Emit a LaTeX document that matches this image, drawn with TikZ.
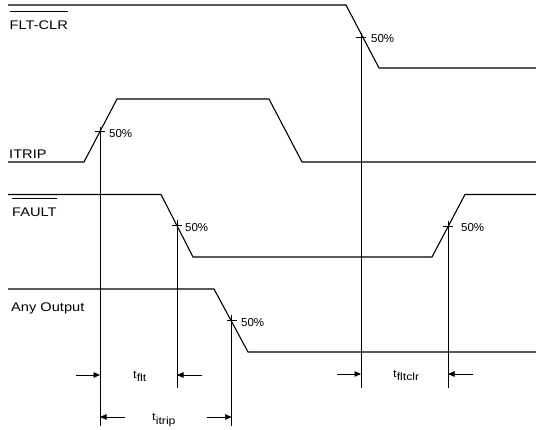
\documentclass[tikz,border=0pt]{standalone}
\usepackage{fontspec}
\setmainfont{Liberation Sans}
\newfontfamily\lblfont{Liberation Sans}[FakeStretch=1.17]
\usetikzlibrary{arrows.meta}
\begin{document}
\begin{tikzpicture}[x=1pt,y=-1pt,
  sig/.style={line width=1.1pt, line join=miter},
  vline/.style={line width=0.7pt},
  tickmark/.style={line width=0.7pt},
  lbl/.style={font=\lblfont\fontsize{12.5}{14}\selectfont, inner sep=0pt, anchor=base west},
  pct/.style={font=\fontsize{11.5}{13}\selectfont, inner sep=0pt, anchor=west},
  tlbl/.style={font=\lblfont\fontsize{11}{13}\selectfont, inner sep=0pt, anchor=base west},
  dimarrow/.style={line width=0.7pt, -{Triangle[length=6.5pt,width=5.5pt]}}]
\useasboundingbox (0,0) rectangle (536,430);

% FLT-CLR
\coordinate (f0) at (8,5); \coordinate (f1) at (346,5);
\coordinate (f2) at (379,68); \coordinate (f3) at (536,68);
\draw[sig] (f0) -- (f1) -- (f2) -- (f3);
% ITRIP
\coordinate (i0) at (8,162); \coordinate (i1) at (84,162);
\coordinate (i2) at (117,99); \coordinate (i3) at (269,99);
\coordinate (i4) at (302,162); \coordinate (i5) at (536,162);
\draw[sig] (i0) -- (i1) -- (i2) -- (i3) -- (i4) -- (i5);
% FAULT
\coordinate (q0) at (8,194.5); \coordinate (q1) at (161,194.5);
\coordinate (q2) at (193,257); \coordinate (q3) at (432,257);
\coordinate (q4) at (465,194.5); \coordinate (q5) at (536,194.5);
\draw[sig] (q0) -- (q1) -- (q2) -- (q3) -- (q4) -- (q5);
% Any Output
\coordinate (o0) at (8,289); \coordinate (o1) at (214,289);
\coordinate (o2) at (248,352); \coordinate (o3) at (536,352);
\draw[sig] (o0) -- (o1) -- (o2) -- (o3);

% labels
\node[lbl] (lflt) at (9.5,29.5) {FLT-CLR};
\draw[line width=0.8pt] ([yshift=18.2pt]lflt.base west) -- ([yshift=18.2pt]lflt.base east);
\node[lbl] (litrip) at (9,158.5) {ITRIP};
\node[lbl] (lfault) at (12,216.5) {FAULT};
\draw[line width=0.8pt] ([yshift=18.5pt]lfault.base west) -- ([yshift=18.5pt]lfault.base east);
\node[lbl] (lany) at (11,312) {Any Output};

% vertical reference lines
\coordinate (v1t) at (100,127); \coordinate (v1b) at (100,426);
\coordinate (v2t) at (177,220); \coordinate (v2b) at (177,388);
\coordinate (v3t) at (231.5,315); \coordinate (v3b) at (231.5,426);
\coordinate (v4t) at (361,33); \coordinate (v4b) at (361,388);
\coordinate (v5t) at (448,221); \coordinate (v5b) at (448,388);
\draw[vline] (v1t) -- (v1b);
\draw[vline] (v2t) -- (v2b);
\draw[vline] (v3t) -- (v3b);
\draw[vline] (v4t) -- (v4b);
\draw[vline] (v5t) -- (v5b);

% 50% ticks
\coordinate (k1a) at (95,131); \coordinate (k1b) at (105,131);
\coordinate (k2a) at (172,225); \coordinate (k2b) at (182,225);
\coordinate (k3a) at (226.5,320.5); \coordinate (k3b) at (236.5,320.5);
\coordinate (k4a) at (356,37); \coordinate (k4b) at (366,37);
\coordinate (k5a) at (443,226.5); \coordinate (k5b) at (453,226.5);
\draw[tickmark] (k1a) -- (k1b);
\draw[tickmark] (k2a) -- (k2b);
\draw[tickmark] (k3a) -- (k3b);
\draw[tickmark] (k4a) -- (k4b);
\draw[tickmark] (k5a) -- (k5b);

\node[pct] (p1) at (109,133.5) {50\%};
\node[pct] (p2) at (185,227.5) {50\%};
\node[pct] (p3) at (241,323) {50\%};
\node[pct] (p4) at (371,39) {50\%};
\node[pct] (p5) at (461,228) {50\%};

% timing dimensions
\coordinate (a1) at (76,375); \coordinate (a1h) at (100,375);
\coordinate (a2) at (202,375); \coordinate (a2h) at (177,375);
\draw[dimarrow] (a1) -- (a1h);
\draw[dimarrow] (a2) -- (a2h);
\node[tlbl] (tflt) at (133,379) {t\raisebox{-3pt}{\fontsize{10.5}{11}\selectfont flt}};

\coordinate (b1) at (125,417); \coordinate (b1h) at (100,417);
\coordinate (b2) at (207,417); \coordinate (b2h) at (231.5,417);
\draw[dimarrow] (b1) -- (b1h);
\draw[dimarrow] (b2) -- (b2h);
\node[tlbl] (titrip) at (152,421) {t\raisebox{-3pt}{\fontsize{10.5}{11}\selectfont itrip}};

\coordinate (c1) at (337,374); \coordinate (c1h) at (361,374);
\coordinate (c2) at (473,374); \coordinate (c2h) at (448,374);
\draw[dimarrow] (c1) -- (c1h);
\draw[dimarrow] (c2) -- (c2h);
\node[tlbl] (tfltclr) at (393,378) {t\raisebox{-3pt}{\fontsize{10.5}{11}\selectfont fltclr}};
\end{tikzpicture}
\end{document}
